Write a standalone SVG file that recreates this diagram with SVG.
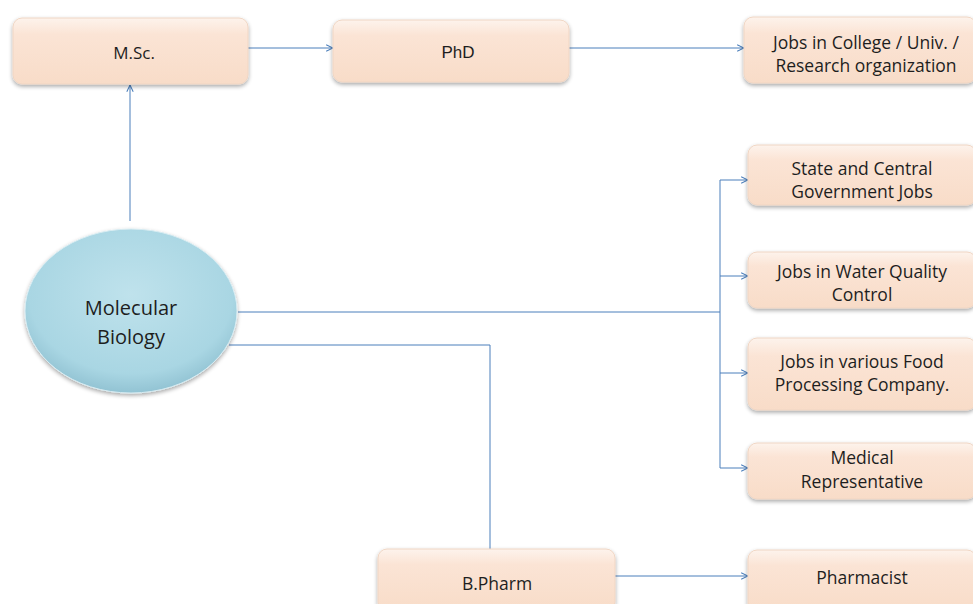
<svg xmlns="http://www.w3.org/2000/svg" width="973" height="604" viewBox="0 0 973 604">
<defs>
<linearGradient id="boxg" x1="0" y1="0" x2="0" y2="1">
<stop offset="0" stop-color="#fdf3ec"/>
<stop offset="0.25" stop-color="#fbe4d5"/>
<stop offset="1" stop-color="#f8dcc8"/>
</linearGradient>
<radialGradient id="ellg" cx="0.5" cy="0.4" r="0.6">
<stop offset="0" stop-color="#bfe2ec"/>
<stop offset="0.8" stop-color="#a9d6e3"/>
<stop offset="1" stop-color="#92c3d3"/>
</radialGradient>
<filter id="sh" x="-10%" y="-20%" width="120%" height="150%">
<feGaussianBlur in="SourceAlpha" stdDeviation="2"/>
<feOffset dx="0" dy="2" result="b"/>
<feComponentTransfer><feFuncA type="linear" slope="0.35"/></feComponentTransfer>
<feMerge><feMergeNode/><feMergeNode in="SourceGraphic"/></feMerge>
</filter>
<marker id="arr" viewBox="0 0 10 10" refX="9.5" refY="5" markerWidth="8" markerHeight="8" markerUnits="userSpaceOnUse" orient="auto">
<path d="M1,1 L9.5,5 L1,9" fill="none" stroke="#4a7ebb" stroke-width="1.3"/>
</marker>
</defs>
<style>
.box{fill:url(#boxg);stroke:#f0d6c4;stroke-width:1;filter:url(#sh)}
.t{font-family:"Open Sans","Liberation Sans",sans-serif;font-size:17.5px;fill:#1e1e1e;text-anchor:middle}
.c{fill:none;stroke:#4a7ebb;stroke-width:1}
</style>
<rect width="973" height="604" fill="#ffffff"/>
<g id="connectors">
<path class="c" d="M248,48 H333" marker-end="url(#arr)"/>
<path class="c" d="M569,48 H744" marker-end="url(#arr)"/>
<path class="c" d="M130,221 V85" marker-end="url(#arr)"/>
<path class="c" d="M238,312 H720"/>
<path class="c" d="M720,180 V468"/>
<path class="c" d="M720,180 H748" marker-end="url(#arr)"/>
<path class="c" d="M720,276 H748" marker-end="url(#arr)"/>
<path class="c" d="M720,373 H748" marker-end="url(#arr)"/>
<path class="c" d="M720,468 H748" marker-end="url(#arr)"/>
<path class="c" d="M229,345 H490 V549"/>
<path class="c" d="M615,576 H748" marker-end="url(#arr)"/>
</g>
<g id="msc">
<rect class="box" x="13" y="18" width="235" height="66" rx="9"/>
<text class="t" x="134" y="59" style="font-size:17px">M.Sc.</text>
</g>
<g id="phd">
<rect class="box" x="333" y="20" width="236" height="62" rx="9"/>
<text class="t" x="458" y="58" style="font-family:'Liberation Sans',sans-serif;font-size:17px">PhD</text>
</g>
<g id="jobs-college">
<rect class="box" x="744" y="17" width="232" height="66" rx="9"/>
<text class="t" x="866" y="49">Jobs in College / Univ. /</text>
<text class="t" x="866" y="72">Research organization</text>
</g>
<g id="molbio">
<ellipse cx="131" cy="311" rx="106" ry="82" fill="url(#ellg)" stroke="#d8ecf2" stroke-width="1" filter="url(#sh)"/>
<text class="t" x="131" y="315" style="font-size:20px">Molecular</text>
<text class="t" x="131" y="344" style="font-size:20px">Biology</text>
</g>
<g id="govt">
<rect class="box" x="748" y="145" width="228" height="60" rx="9"/>
<text class="t" x="862" y="175">State and Central</text>
<text class="t" x="862" y="198">Government Jobs</text>
</g>
<g id="water">
<rect class="box" x="748" y="252" width="228" height="56" rx="9"/>
<text class="t" x="862" y="278">Jobs in Water Quality</text>
<text class="t" x="862" y="301">Control</text>
</g>
<g id="food">
<rect class="box" x="748" y="338" width="228" height="72" rx="9"/>
<text class="t" x="862" y="368">Jobs in various Food</text>
<text class="t" x="862" y="391">Processing Company.</text>
</g>
<g id="medrep">
<rect class="box" x="748" y="443" width="228" height="56" rx="9"/>
<text class="t" x="862" y="464">Medical</text>
<text class="t" x="862" y="488">Representative</text>
</g>
<g id="bpharm">
<rect class="box" x="378" y="549" width="237" height="62" rx="9"/>
<text class="t" x="497" y="590">B.Pharm</text>
</g>
<g id="pharmacist">
<rect class="box" x="748" y="550" width="228" height="62" rx="9"/>
<text class="t" x="862" y="584">Pharmacist</text>
</g>
</svg>
